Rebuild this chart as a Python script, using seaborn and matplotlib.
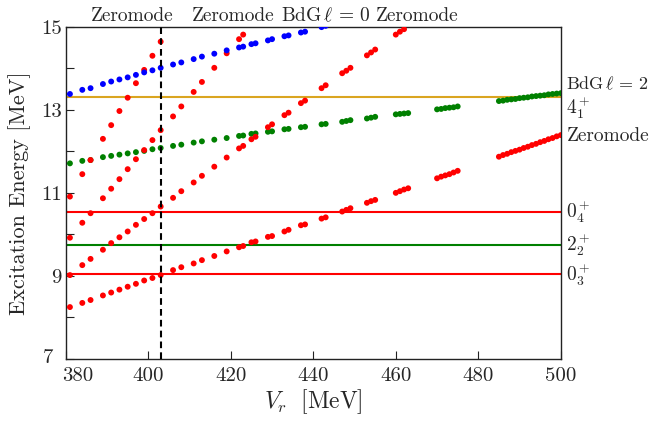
import matplotlib
matplotlib.use("Agg")
import matplotlib.pyplot as plt
import matplotlib.transforms as mtransforms
import seaborn as sns
import pandas as pd
import numpy as np

# ---------------- data ----------------
vr = [381, 384, 386, 389, 391, 393, 395, 397, 399, 401, 403, 406, 408, 411, 413,
      416, 419, 422, 423, 425, 426, 429, 430, 433, 434, 437, 438, 442, 443, 447,
      448, 449, 453, 454, 455, 460, 461, 462, 463, 470, 471, 472, 473, 474, 475,
      485, 486, 487, 488, 489, 490, 491, 492, 493, 494, 495, 496, 497, 498, 499, 500]

red_a = [8.25, 8.35, 8.42, 8.53, 8.60, 8.67, 8.74, 8.81, 8.89, 8.95, 9.02, 9.14, 9.21,
         9.30, 9.38, 9.48, 9.59, 9.69, 9.72, 9.81, 9.83, 9.94, 9.96, 10.07, 10.11,
         10.22, 10.24, 10.38, 10.41, 10.55, 10.59, 10.63, 10.76, 10.80, 10.83, 11.00,
         11.04, 11.08, 11.11, 11.35, 11.39, 11.42, 11.45, 11.49, 11.53, 11.87, 11.91,
         11.94, 11.98, 12.01, 12.04, 12.08, 12.11, 12.15, 12.18, 12.22, 12.25, 12.29,
         12.32, 12.36, 12.39]

red_b = [9.92, 10.28, 10.51, 10.87, 11.10, 11.33, 11.57, 11.81, 12.03, 12.27, 12.51,
         12.84, 13.08, 13.43, 13.67, 14.01, 14.36, 14.70, 14.81]

red_c = [9.02, 9.26, 9.41, 9.63, 9.79, 9.93, 10.07, 10.23, 10.37, 10.51, 10.67, 10.88,
         11.04, 11.25, 11.41, 11.63, 11.85, 12.07, 12.13, 12.29, 12.35, 12.58, 12.65,
         12.87, 12.93, 13.16, 13.22, 13.52, 13.59, 13.88, 13.94, 14.01, 14.31, 14.38,
         14.45, 14.81, 14.88, 14.94]

red_d = [10.91, 11.45, 11.79, 12.30, 12.63, 12.97, 13.29, 13.64, 13.96, 14.30, 14.64]

green = [11.71, 11.77, 11.79, 11.86, 11.89, 11.92, 11.95, 11.98, 12.01, 12.05, 12.08,
         12.13, 12.16, 12.21, 12.24, 12.28, 12.32, 12.37, 12.38, 12.42, 12.43, 12.47,
         12.48, 12.53, 12.54, 12.58, 12.59, 12.65, 12.66, 12.71, 12.73, 12.75, 12.79,
         12.81, 12.83, 12.89, 12.90, 12.91, 12.92, 13.01, 13.02, 13.04, 13.05, 13.06,
         13.08, 13.21, 13.22, 13.24, 13.25, 13.26, 13.28, 13.29, 13.30, 13.32, 13.33,
         13.34, 13.35, 13.37, 13.38, 13.39, 13.40]

blue = [13.38, 13.48, 13.52, 13.62, 13.68, 13.73, 13.78, 13.84, 13.90, 13.95, 14.01,
        14.09, 14.14, 14.22, 14.28, 14.35, 14.43, 14.50, 14.52, 14.58, 14.60, 14.67,
        14.70, 14.77, 14.79, 14.86, 14.88, 14.99, 15.02]

# experimental levels
levels = {"0_4": 10.55, "2_2": 9.75, "0_3": 9.04, "4_1": 13.30}
v_dash = 403

x_ticks = [380, 400, 420, 440, 460, 480, 500]
y_ticks = [7, 8, 9, 10, 11, 12, 13, 14, 15]
y_labels = ["7", "", "9", "", "11", "", "13", "", "15"]

top_texts = [("Zeromode", 396.2), ("Zeromode", 420.5), (r"BdG$\,\ell\,=\,0$", 443.0),
             ("Zeromode", 465.1)]
right_texts = [(r"BdG$\,\ell\,=\,2$", 13.63), (r"$4_1^+$", 13.06), ("Zeromode", 12.37),
               (r"$0_4^+$", 10.55), (r"$2_2^+$", 9.75), (r"$0_3^+$", 9.04)]

# ---------------- build table ----------------
frames = []
for name, vals in [("green", green), ("red_a", red_a), ("red_b", red_b),
                   ("red_c", red_c), ("red_d", red_d), ("blue", blue)]:
    frames.append(pd.DataFrame({"Vr": vr[:len(vals)], "E": vals, "branch": name}))
df = pd.concat(frames, ignore_index=True)
palette = {"green": "green", "red_a": "red", "red_b": "red", "red_c": "red",
           "red_d": "red", "blue": "blue"}

# ---------------- style ----------------
sns.set_style("ticks")
plt.rcParams.update({
    "font.family": "serif",
    "font.serif": ["cmr10", "DejaVu Serif"],
    "mathtext.fontset": "cm",
    "axes.formatter.use_mathtext": True,
    "axes.unicode_minus": False,
    "xtick.direction": "in",
    "ytick.direction": "in",
    "axes.edgecolor": "#222222",
    "axes.linewidth": 1.0,
})

fig = plt.figure(figsize=(6.5, 4.22), dpi=100)
ax = fig.add_axes([65.8 / 650, 1 - 359 / 422, (560.8 - 65.8) / 650, (359 - 26.7) / 422])

for key, col in [("0_4", "red"), ("2_2", "green"), ("0_3", "red"), ("4_1", "goldenrod")]:
    ax.axhline(levels[key], color=col, lw=1.5, zorder=1)

sns.scatterplot(data=df, x="Vr", y="E", hue="branch", palette=palette, s=18,
                linewidth=0, legend=False, ax=ax, zorder=3)

ax.axvline(v_dash, color="black", lw=1.5, dashes=(3.2, 2.0), zorder=4)

ax.set_xlim(380, 500)
ax.set_ylim(7, 15)
ax.set_xticks(x_ticks)
ax.set_xticklabels([str(t) for t in x_ticks])
ax.set_yticks(y_ticks)
ax.set_yticklabels(y_labels)
ax.tick_params(axis="both", labelsize=15, length=6, width=0.8, color="#222222",
               top=False, right=False)
ax.tick_params(axis="x", pad=6)
ax.tick_params(axis="y", pad=3)

ax.set_xlabel(r"$V_r\ \ [\mathrm{MeV}]$", fontsize=17)
ax.set_ylabel("Excitation Energy [MeV]", fontsize=16)
ax.xaxis.set_label_coords(0.5, -0.085)
ax.yaxis.set_label_coords(-0.07, 0.5)

# shift corner tick labels apart
xl0 = ax.get_xticklabels()[0]
xl0.set_transform(xl0.get_transform() + mtransforms.ScaledTranslation(12 / 100, 0, fig.dpi_scale_trans))
yl0 = ax.get_yticklabels()[0]
yl0.set_transform(yl0.get_transform() + mtransforms.ScaledTranslation(-8 / 100, 2.5 / 100, fig.dpi_scale_trans))

for txt, xv in top_texts:
    ax.annotate(txt, xy=(xv, 1.0), xycoords=("data", "axes fraction"),
                xytext=(0, 4), textcoords="offset points",
                ha="center", va="baseline", fontsize=14)

for i, (txt, yv) in enumerate(right_texts):
    ax.annotate(txt, xy=(1.0, yv), xycoords=("axes fraction", "data"),
                xytext=(4, 0), textcoords="offset points",
                ha="left", va="center", fontsize=13 if i == 0 else 14,
                annotation_clip=False)

fig.savefig("out.png", dpi=100)
